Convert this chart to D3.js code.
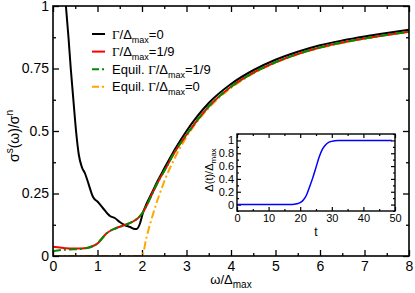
<!DOCTYPE html>
<html>
<head>
<meta charset="utf-8">
<script src="https://d3js.org/d3.v7.min.js"></script>
<style>
  body { margin: 0; background: #fff; }
  svg text { font-family: "Liberation Sans", Arial, sans-serif; fill: #000; }
</style>
</head>
<body>
<svg id="chart" width="415" height="293"></svg>
<script>
// main panel: sigma_s / sigma_n vs omega / Delta_max
const omegaBlack = [0.29, 0.35, 0.40, 0.46, 0.52, 0.58, 0.65, 0.72, 0.785, 0.90, 1.01, 1.12, 1.28, 1.39, 1.50, 1.61, 1.73, 1.84, 1.88, 1.95, 2.02, 2.11, 2.22, 2.35, 2.5, 2.75, 3, 3.5, 4, 4.5, 5, 5.5, 6, 6.5, 7, 7.5, 8];
const sigmaBlack = [1.0, 0.87, 0.748, 0.62, 0.496, 0.405, 0.355, 0.33, 0.296, 0.236, 0.216, 0.192, 0.16, 0.152, 0.136, 0.124, 0.116, 0.108, 0.108, 0.128, 0.172, 0.212, 0.252, 0.30, 0.35, 0.43, 0.50, 0.612, 0.688, 0.743, 0.785, 0.817, 0.843, 0.862, 0.878, 0.892, 0.905];

const omegaRed = [0, 0.1, 0.2, 0.3, 0.4, 0.5, 0.6, 0.7, 0.8, 0.9, 1.0, 1.1, 1.2, 1.3, 1.4, 1.5, 1.6, 1.7, 1.8, 1.9, 2.0, 2.1, 2.2, 2.3, 2.4, 2.5, 2.75, 3, 3.5, 4, 4.5, 5, 5.5, 6, 6.5, 7, 7.5, 8];
const sigmaRed = [0.037, 0.035, 0.033, 0.031, 0.030, 0.030, 0.030, 0.031, 0.034, 0.040, 0.050, 0.070, 0.090, 0.102, 0.110, 0.117, 0.123, 0.130, 0.138, 0.150, 0.170, 0.200, 0.238, 0.275, 0.31, 0.34, 0.42, 0.485, 0.598, 0.677, 0.733, 0.775, 0.808, 0.834, 0.854, 0.870, 0.884, 0.897];
const sigmaGreen = [0.019, 0.022, 0.024, 0.025, 0.026, 0.027, 0.028, 0.030, 0.033, 0.040, 0.050, 0.070, 0.090, 0.102, 0.110, 0.117, 0.123, 0.130, 0.138, 0.150, 0.170, 0.200, 0.238, 0.275, 0.31, 0.34, 0.42, 0.485, 0.598, 0.677, 0.733, 0.775, 0.808, 0.834, 0.854, 0.870, 0.884, 0.897];

const omegaOrange = [0, 1, 2, 2.1, 2.25, 2.5, 2.75, 3, 3.5, 4, 4.5, 5, 5.5, 6, 6.5, 7, 7.5, 8];
const sigmaOrange = [0, 0, 0, 0.074, 0.169, 0.298, 0.397, 0.476, 0.592, 0.672, 0.730, 0.773, 0.807, 0.833, 0.852, 0.870, 0.884, 0.897];

// inset: Delta(t)/Delta_max vs t
const tInset = [0, 5, 10, 15, 17, 18, 19, 20, 21, 22, 23, 24, 25, 26, 27, 28, 29, 30, 31, 32, 35, 40, 45, 49];
const deltaInset = [0, 0, 0, 0, 0.001, 0.004, 0.012, 0.03, 0.07, 0.15, 0.28, 0.42, 0.58, 0.74, 0.86, 0.93, 0.97, 0.985, 0.995, 1, 1, 1, 1, 1];

const xTicks = [0, 1, 2, 3, 4, 5, 6, 7, 8];
const yTicks = [0, 0.25, 0.5, 0.75, 1];
const insetXTicks = [0, 10, 20, 30, 40, 50];
const insetYTicks = [0, 0.2, 0.4, 0.6, 0.8, 1];

const legendLabels = [
  {pre: "", sub: "max", post: "=0"},
  {pre: "", sub: "max", post: "=1/9"},
  {pre: "Equil. ", sub: "max", post: "=1/9"},
  {pre: "Equil. ", sub: "max", post: "=0"}
];

const svg = d3.select("#chart");
const plot = {left: 53, right: 409, top: 6, bottom: 256};

const x = d3.scaleLinear().domain([0, 8]).range([plot.left, plot.right]);
const y = d3.scaleLinear().domain([0, 1]).range([plot.bottom, plot.top]);

const minorX = d3.range(0, 8.01, 0.5).filter(v => !xTicks.includes(v));
const minorY = d3.range(0, 1.001, 0.125).filter(v => !yTicks.includes(v));

function styleAxis(g) {
  g.select(".domain").remove();
  g.selectAll("line").attr("stroke", "#000").attr("stroke-width", 1.3);
}

// bottom
svg.append("g").attr("transform", `translate(0,${plot.bottom})`)
  .call(d3.axisBottom(x).tickValues(xTicks).tickSize(-6).tickPadding(5).tickFormat(d3.format("d")))
  .call(styleAxis)
  .selectAll("text").attr("font-size", 14);
svg.append("g").attr("transform", `translate(0,${plot.bottom})`)
  .call(d3.axisBottom(x).tickValues(minorX).tickSize(-3).tickFormat(""))
  .call(styleAxis);
// top
svg.append("g").attr("transform", `translate(0,${plot.top})`)
  .call(d3.axisTop(x).tickValues(xTicks).tickSize(-6).tickFormat(""))
  .call(styleAxis);
svg.append("g").attr("transform", `translate(0,${plot.top})`)
  .call(d3.axisTop(x).tickValues(minorX).tickSize(-3).tickFormat(""))
  .call(styleAxis);
// left
svg.append("g").attr("transform", `translate(${plot.left},0)`)
  .call(d3.axisLeft(y).tickValues(yTicks).tickSize(-6).tickPadding(4).tickFormat(d3.format("~g")))
  .call(styleAxis)
  .selectAll("text").attr("font-size", 14);
svg.append("g").attr("transform", `translate(${plot.left},0)`)
  .call(d3.axisLeft(y).tickValues(minorY).tickSize(-3).tickFormat(""))
  .call(styleAxis);
// right
svg.append("g").attr("transform", `translate(${plot.right},0)`)
  .call(d3.axisRight(y).tickValues(yTicks).tickSize(-6).tickFormat(""))
  .call(styleAxis);
svg.append("g").attr("transform", `translate(${plot.right},0)`)
  .call(d3.axisRight(y).tickValues(minorY).tickSize(-3).tickFormat(""))
  .call(styleAxis);

// clip
svg.append("clipPath").attr("id", "clipMain")
  .append("rect").attr("x", plot.left).attr("y", plot.top)
  .attr("width", plot.right - plot.left).attr("height", plot.bottom - plot.top);

const line = d3.line().x(d => x(d[0])).y(d => y(d[1])).curve(d3.curveMonotoneX);
const curves = svg.append("g").attr("clip-path", "url(#clipMain)");

curves.append("path").datum(d3.zip(omegaOrange, sigmaOrange)).attr("d", line)
  .attr("fill", "none").attr("stroke", "#ffa500").attr("stroke-width", 2)
  .attr("stroke-dasharray", "8,3,2,3");
curves.append("path").datum(d3.zip(omegaBlack, sigmaBlack)).attr("d", line)
  .attr("fill", "none").attr("stroke", "#000").attr("stroke-width", 2);
curves.append("path").datum(d3.zip(omegaRed, sigmaRed)).attr("d", line)
  .attr("fill", "none").attr("stroke", "#ff0000").attr("stroke-width", 2);
curves.append("path").datum(d3.zip(omegaRed, sigmaGreen)).attr("d", line)
  .attr("fill", "none").attr("stroke", "#008c00").attr("stroke-width", 2)
  .attr("stroke-dasharray", "8,3,2,3");

// frame
svg.append("rect").attr("x", plot.left).attr("y", plot.top)
  .attr("width", plot.right - plot.left).attr("height", plot.bottom - plot.top)
  .attr("fill", "none").attr("stroke", "#000").attr("stroke-width", 1.6);

// axis titles
const xTitle = svg.append("text").attr("x", 231).attr("y", 284)
  .attr("text-anchor", "middle").attr("font-size", 13);
xTitle.append("tspan").text("ω/Δ");
xTitle.append("tspan").attr("font-size", 10).attr("dy", 4).text("max");

const yTitle = svg.append("text").attr("transform", "translate(19,136) rotate(-90)")
  .attr("text-anchor", "middle").attr("font-size", 14);
yTitle.append("tspan").text("σ");
yTitle.append("tspan").attr("font-size", 10).attr("dy", -6).text("s");
yTitle.append("tspan").attr("dy", 6).text("(ω)/σ");
yTitle.append("tspan").attr("font-size", 10).attr("dy", -6).text("n");

// legend
const legendColors = ["#000", "#ff0000", "#008c00", "#ffa500"];
const legendDash = [null, null, "7,3,2,3", "7,3,2,3"];
const legend = svg.append("g");
legendLabels.forEach((lab, i) => {
  const ly = 34 + i * 17.6;
  legend.append("line").attr("x1", 92).attr("x2", 105).attr("y1", ly).attr("y2", ly)
    .attr("stroke", legendColors[i]).attr("stroke-width", 2)
    .attr("stroke-dasharray", legendDash[i]);
  const t = legend.append("text").attr("x", 112).attr("y", ly + 4.5).attr("font-size", 13);
  t.append("tspan").text(lab.pre);
  t.append("tspan").attr("font-family", "Liberation Serif, serif").text("Γ");
  t.append("tspan").text("/Δ");
  t.append("tspan").attr("font-size", 9).attr("dy", 4).text(lab.sub);
  t.append("tspan").attr("dy", -4).text(lab.post);
});

// inset
const inset = {left: 237, right: 395, top: 134, bottom: 211};
const xi = d3.scaleLinear().domain([0, 50]).range([inset.left, inset.right]);
const yi = d3.scaleLinear().domain([-0.1, 1.1]).range([inset.bottom, inset.top]);

svg.append("rect").attr("x", inset.left).attr("y", inset.top)
  .attr("width", inset.right - inset.left).attr("height", inset.bottom - inset.top)
  .attr("fill", "#fff");

const minorXi = d3.range(5, 50, 10);
const minorYi = d3.range(-0.1, 1.15, 0.2).map(v => +v.toFixed(2));

function styleInset(g) {
  g.select(".domain").remove();
  g.selectAll("line").attr("stroke", "#000").attr("stroke-width", 1.2);
}
svg.append("g").attr("transform", `translate(0,${inset.bottom})`)
  .call(d3.axisBottom(xi).tickValues(insetXTicks).tickSize(-4).tickPadding(3).tickFormat(d3.format("d")))
  .call(styleInset).selectAll("text").attr("font-size", 11);
svg.append("g").attr("transform", `translate(0,${inset.bottom})`)
  .call(d3.axisBottom(xi).tickValues(minorXi).tickSize(-2).tickFormat("")).call(styleInset);
svg.append("g").attr("transform", `translate(0,${inset.top})`)
  .call(d3.axisTop(xi).tickValues(insetXTicks).tickSize(-4).tickFormat("")).call(styleInset);
svg.append("g").attr("transform", `translate(0,${inset.top})`)
  .call(d3.axisTop(xi).tickValues(minorXi).tickSize(-2).tickFormat("")).call(styleInset);
svg.append("g").attr("transform", `translate(${inset.left},0)`)
  .call(d3.axisLeft(yi).tickValues(insetYTicks).tickSize(-4).tickPadding(3).tickFormat(d3.format("~g")))
  .call(styleInset).selectAll("text").attr("font-size", 11);
svg.append("g").attr("transform", `translate(${inset.left},0)`)
  .call(d3.axisLeft(yi).tickValues(minorYi).tickSize(-2).tickFormat("")).call(styleInset);
svg.append("g").attr("transform", `translate(${inset.right},0)`)
  .call(d3.axisRight(yi).tickValues(insetYTicks).tickSize(-4).tickFormat("")).call(styleInset);
svg.append("g").attr("transform", `translate(${inset.right},0)`)
  .call(d3.axisRight(yi).tickValues(minorYi).tickSize(-2).tickFormat("")).call(styleInset);

const lineInset = d3.line().x(d => xi(d[0])).y(d => yi(d[1])).curve(d3.curveMonotoneX);
svg.append("path").datum(d3.zip(tInset, deltaInset)).attr("d", lineInset)
  .attr("fill", "none").attr("stroke", "#0000ff").attr("stroke-width", 1.5);

svg.append("rect").attr("x", inset.left).attr("y", inset.top)
  .attr("width", inset.right - inset.left).attr("height", inset.bottom - inset.top)
  .attr("fill", "none").attr("stroke", "#000").attr("stroke-width", 1.4);

svg.append("text").attr("x", 316).attr("y", 236).attr("text-anchor", "middle")
  .attr("font-size", 12).text("t");
const yiTitle = svg.append("text").attr("transform", "translate(213,170) rotate(-90)")
  .attr("text-anchor", "middle").attr("font-size", 11);
yiTitle.append("tspan").text("Δ(t)/Δ");
yiTitle.append("tspan").attr("font-size", 8).attr("dy", 3).text("max");
</script>
</body>
</html>
